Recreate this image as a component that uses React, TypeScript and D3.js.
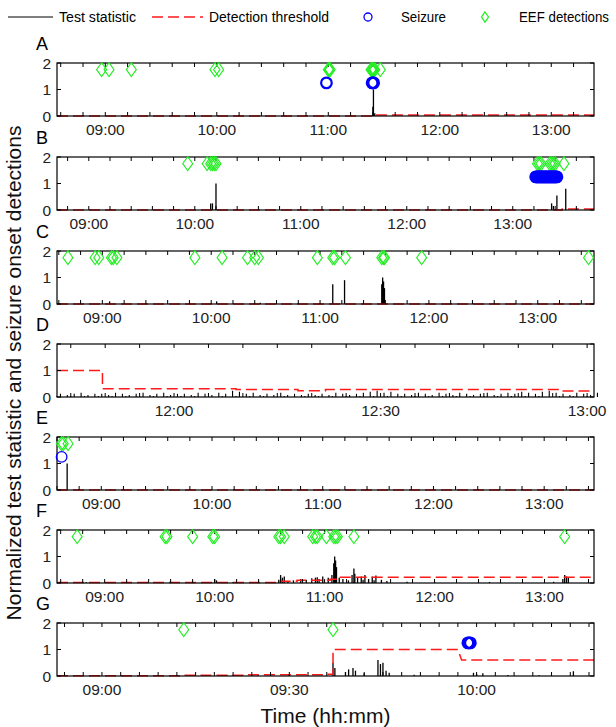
import React from "react";
import * as d3 from "d3";

const W = 616;
const H = 727;
const plotLeft = 57;
const plotRight = 594;
const panelTops = [63, 157, 251, 344, 437, 530, 623];
const panelH = 53;
const font = "'Liberation Sans', Arial, sans-serif";

type Pt = [string, number];

// "hh:mm" (minutes may have decimals) -> minutes since midnight
const toMin = (s: string) => {
  const [h, m] = s.split(":");
  return +h * 60 + +m;
};

const hourLabels = ["09:00", "10:00", "11:00", "12:00", "13:00"];

// ---- panel A
const aRange = ["08:34", "13:23"];
const aEef = ["08:58", "09:02", "09:14", "09:59", "10:01", "11:00", "11:00.5", "11:01", "11:23", "11:23.5", "11:24", "11:24.5", "11:25", "11:28"];
const aSeizure = ["10:59", "11:23.6", "11:24", "11:24.4"];
const aSpikes: Pt[] = [["11:24", 0.35], ["11:24.3", 1.0], ["11:25", 0.1]];
const aThreshold: Pt[] = [["08:34", 0], ["11:24", 0], ["11:24", 0.04], ["13:23", 0.04]];

// ---- panel B
const bRange = ["08:42", "13:46"];
const bEef = ["09:56", "10:07", "10:09", "10:10", "10:11", "10:12", "13:14", "13:15", "13:16", "13:21", "13:22", "13:23", "13:24", "13:29"];
const bSeizure = [
  "13:13", "13:13.5", "13:14", "13:14.5", "13:15", "13:15.5", "13:16", "13:16.5", "13:17", "13:17.5",
  "13:18", "13:18.5", "13:19", "13:19.5", "13:20", "13:20.5", "13:21", "13:21.5", "13:22", "13:22.5",
  "13:23", "13:23.5", "13:24", "13:24.5", "13:25"
];
const bSpikes: Pt[] = [["10:09", 0.25], ["10:10", 0.25], ["10:12", 1.0], ["13:22", 0.25], ["13:23", 0.15], ["13:25", 0.55], ["13:30", 0.8]];
const bThreshold: Pt[] = [["08:42", 0], ["13:28", 0], ["13:28", 0.04], ["13:46", 0.04]];

// ---- panel C
const cRange = ["08:35", "13:31"];
const cEef = ["08:41", "08:56", "08:58", "09:05", "09:06", "09:08", "09:51", "10:06", "10:20", "10:24", "10:26", "10:58.5", "11:07", "11:08", "11:14", "11:34", "11:35", "11:35.5", "11:56", "13:28"];
const cSeizure: string[] = [];
const cSpikes: Pt[] = [["09:04", 0.1], ["10:03", 0.1], ["10:27", 0.05], ["11:07", 0.75], ["11:13.5", 0.9], ["11:34", 0.75], ["11:34.5", 1.0], ["11:35", 0.85], ["11:35.5", 0.6]];
const cThreshold: Pt[] = [["08:35", 0], ["13:31", 0]];

// ---- panel D
const dRange = ["11:43", "13:01"];
const dLabels = ["12:00", "12:30", "13:00"];
const dThreshold: Pt[] = [
  ["11:43", 1.0], ["11:49.6", 1.0], ["11:49.6", 0.31], ["12:09", 0.31], ["12:09", 0.28],
  ["12:18", 0.28], ["12:18", 0.24], ["12:22", 0.24], ["12:22", 0.28], ["12:56", 0.28],
  ["12:56", 0.23], ["13:01", 0.23]
];
// test statistic, one digit per half minute from 11:43, value = digit * 0.04
const dStatStart = "11:43";
const dStatDigits =
  "1302130412" + "0313021403" + "1203140213" + "0412031302" +
  "1403120413" + "0615031402" + "1302041203" + "0213021302" +
  "1403120314" + "0516041503" + "1302140312" + "0413021403" +
  "1203140213" + "0413051403" + "1506041302" + "14031204";

// ---- panel E
const eRange = ["08:36", "13:27"];
const eEef = ["08:38.4", "08:39.4", "08:42"];
const eSeizure = ["08:38.5"];
const eSpikes: Pt[] = [["08:41.5", 1.0], ["08:48", 0.03], ["09:05", 0.02]];
const eThreshold: Pt[] = [["08:36", 0], ["13:27", 0]];

// ---- panel F
const fRange = ["08:34", "13:27"];
const fEef = ["08:45", "09:33", "09:34", "09:48", "09:59", "10:00", "10:35", "10:36", "10:38", "10:53.5", "10:55", "10:56", "11:01", "11:05", "11:06", "11:07", "11:16", "13:11"];
const fSeizure: string[] = [];
const fSpikes: Pt[] = [
  ["08:50", 0.03], ["09:10", 0.02], ["09:30", 0.04], ["09:45", 0.03], ["10:00", 0.15], ["10:01", 0.1],
  ["10:10", 0.04], ["10:20", 0.03], ["10:35", 0.12], ["10:36", 0.3], ["10:37", 0.2], ["10:38", 0.25],
  ["10:40", 0.08], ["10:43", 0.1], ["10:47", 0.15], ["10:50", 0.12], ["10:53", 0.18], ["10:55", 0.2],
  ["10:56", 0.22], ["10:57", 0.15], ["10:59", 0.25], ["11:02", 0.2], ["11:04", 0.3], ["11:05", 0.75],
  ["11:05.5", 1.0], ["11:06", 0.85], ["11:06.5", 0.6], ["11:08", 0.2], ["11:10", 0.15], ["11:13", 0.1],
  ["11:15", 0.3], ["11:16", 0.55], ["11:16.5", 0.35], ["11:18", 0.2], ["11:20", 0.25], ["11:21", 0.12],
  ["11:22", 0.3], ["11:24", 0.15], ["11:26", 0.25], ["11:27", 0.1], ["11:28", 0.28], ["11:31", 0.12],
  ["11:34", 0.08], ["11:45", 0.05], ["12:00", 0.03], ["12:30", 0.04], ["13:05", 0.05], ["13:10", 0.15],
  ["13:11", 0.3], ["13:12", 0.25], ["13:13", 0.2]
];
const fThreshold: Pt[] = [
  ["08:34", 0.02], ["10:35", 0.02], ["10:35", 0.07], ["10:45", 0.07], ["10:45", 0.1],
  ["11:03", 0.1], ["11:03", 0.14], ["11:08", 0.14], ["11:08", 0.22], ["13:27", 0.22]
];

// ---- panel G
const gRange = ["08:52.8", "10:18.8"];
const gLabels = ["09:00", "09:30", "10:00"];
const gEef = ["09:13.1", "09:37"];
const gSeizure = ["09:58.6", "09:58.8", "09:59"];
const gSpikes: Pt[] = [
  ["09:14", 0.03], ["09:20", 0.04], ["09:25", 0.03], ["09:30", 0.04], ["09:37", 0.5], ["09:37.3", 0.3],
  ["09:39", 0.15], ["09:39.5", 0.25], ["09:40.2", 0.3], ["09:40.6", 0.2], ["09:42", 0.1], ["09:44.2", 0.6],
  ["09:44.6", 0.45], ["09:45", 0.5], ["09:45.5", 0.2], ["09:46", 0.12], ["09:50", 0.05], ["09:59.5", 0.12],
  ["10:00", 0.08], ["10:01", 0.1], ["10:05", 0.04], ["10:10", 0.03], ["10:15.5", 0.18]
];
const gThreshold: Pt[] = [
  ["08:52.8", 0.01], ["09:13", 0.01], ["09:13", 0.03], ["09:23", 0.03], ["09:23", 0.05],
  ["09:35.5", 0.05], ["09:35.5", 0.07], ["09:37", 0.07], ["09:37", 1.0], ["09:57", 1.0],
  ["09:57.6", 0.6], ["10:18.8", 0.6]
];

interface Panel {
  letter: string;
  range: string[];
  labels: string[];
  step: number;
  eef: string[];
  seizure: string[];
  spikes: Pt[];
  threshold: Pt[];
  stat?: { start: string; digits: string };
}

const panels: Panel[] = [
  { letter: "A", range: aRange, labels: hourLabels, step: 12, eef: aEef, seizure: aSeizure, spikes: aSpikes, threshold: aThreshold },
  { letter: "B", range: bRange, labels: hourLabels, step: 12, eef: bEef, seizure: bSeizure, spikes: bSpikes, threshold: bThreshold },
  { letter: "C", range: cRange, labels: hourLabels, step: 12, eef: cEef, seizure: cSeizure, spikes: cSpikes, threshold: cThreshold },
  { letter: "D", range: dRange, labels: dLabels, step: 5, eef: [], seizure: [], spikes: [], threshold: dThreshold, stat: { start: dStatStart, digits: dStatDigits } },
  { letter: "E", range: eRange, labels: hourLabels, step: 12, eef: eEef, seizure: eSeizure, spikes: eSpikes, threshold: eThreshold },
  { letter: "F", range: fRange, labels: hourLabels, step: 12, eef: fEef, seizure: fSeizure, spikes: fSpikes, threshold: fThreshold },
  { letter: "G", range: gRange, labels: gLabels, step: 3, eef: gEef, seizure: gSeizure, spikes: gSpikes, threshold: gThreshold }
];

const GREEN = "#22ee22";
const BLUE = "#0000ff";
const RED = "#ff1a1a";

const diamond = (cx: number, cy: number, w = 5, h = 7) =>
  `M${cx},${cy - h}L${cx + w},${cy}L${cx},${cy + h}L${cx - w},${cy}Z`;

function PanelView({ p, top }: { p: Panel; top: number }) {
  const x = d3.scaleLinear().domain(p.range.map(toMin)).range([plotLeft, plotRight]);
  const y = d3.scaleLinear().domain([0, 2]).range([top + panelH, top]);
  const [t0, t1] = x.domain();
  const minor = d3.range(Math.ceil(t0 / p.step) * p.step, t1 + 1e-6, p.step);
  const bottom = top + panelH;

  const thr = d3.line<Pt>().x(d => x(toMin(d[0]))).y(d => y(d[1]))(p.threshold) || "";

  let stat: [number, number][] = [];
  if (p.stat) {
    const s0 = toMin(p.stat.start);
    stat = p.stat.digits.split("").map((c, i) => [s0 + i * 0.5, +c * 0.04] as [number, number]);
  }

  return (
    <g>
      <text x={36} y={top - 13} fontSize={18} fill="#000">{p.letter}</text>
      {[0, 1, 2].map(v => (
        <text key={v} x={51} y={y(v)} dy="0.36em" fontSize={15.5} textAnchor="end" fill="#222">{v}</text>
      ))}
      {p.labels.map(l => (
        <text key={l} x={x(toMin(l))} y={bottom + 19} fontSize={15.5} textAnchor="middle" fill="#222">{l}</text>
      ))}
      {/* test statistic */}
      {stat.map((d, i) => (
        <line key={"s" + i} x1={x(d[0])} x2={x(d[0])} y1={y(0)} y2={y(d[1])} stroke="#000" strokeWidth={1.1} />
      ))}
      {p.spikes.map((d, i) => (
        <line key={i} x1={x(toMin(d[0]))} x2={x(toMin(d[0]))} y1={y(0)} y2={y(d[1])} stroke="#000" strokeWidth={1.3} />
      ))}
      {/* detection threshold */}
      <path d={thr} fill="none" stroke={RED} strokeWidth={1.5} strokeDasharray="11,5" />
      {/* frame and ticks */}
      <rect x={plotLeft} y={top} width={plotRight - plotLeft} height={panelH} fill="none" stroke="#000" strokeWidth={1.2} />
      {minor.map(t => (
        <g key={t}>
          <line x1={x(t)} x2={x(t)} y1={top} y2={top + 4} stroke="#000" />
          <line x1={x(t)} x2={x(t)} y1={bottom} y2={bottom - 4} stroke="#000" />
        </g>
      ))}
      {[0, 1, 2].map(v => (
        <g key={v}>
          <line x1={plotLeft} x2={plotLeft + 4} y1={y(v)} y2={y(v)} stroke="#000" />
          <line x1={plotRight} x2={plotRight - 4} y1={y(v)} y2={y(v)} stroke="#000" />
        </g>
      ))}
      {/* markers */}
      {p.eef.map((t, i) => (
        <path key={i} d={diamond(x(toMin(t)), y(1.75))} fill="none" stroke={GREEN} strokeWidth={1.1} />
      ))}
      {p.seizure.map((t, i) => (
        <circle key={i} cx={x(toMin(t))} cy={y(1.25)} r={5.3} fill="none" stroke={BLUE} strokeWidth={p.seizure.length > 1 ? 2.2 : 1.3} />
      ))}
    </g>
  );
}

export default function App() {
  return (
    <svg width={W} height={H} style={{ display: "block", position: "absolute", left: 0, top: 0, background: "#fff" }} fontFamily={font}>
      {/* legend */}
      <g fontSize={14} fill="#000">
        <line x1={8} x2={53} y1={17} y2={17} stroke="#000" strokeWidth={1.2} />
        <text x={59} y={22} textLength={77} lengthAdjust="spacingAndGlyphs">Test statistic</text>
        <line x1={152} x2={203} y1={17} y2={17} stroke={RED} strokeWidth={1.5} strokeDasharray="11,5" />
        <text x={209} y={22} textLength={120} lengthAdjust="spacingAndGlyphs">Detection threshold</text>
        <circle cx={368} cy={17} r={4} fill="none" stroke={BLUE} strokeWidth={1.3} />
        <text x={401} y={22} textLength={45} lengthAdjust="spacingAndGlyphs">Seizure</text>
        <path d={diamond(485, 17, 3.5, 5)} fill="none" stroke={GREEN} strokeWidth={1.3} />
        <text x={519} y={22} textLength={90} lengthAdjust="spacingAndGlyphs">EEF detections</text>
      </g>
      {panels.map((p, i) => (
        <PanelView key={p.letter} p={p} top={panelTops[i]} />
      ))}
      <text transform="translate(21,373) rotate(-90)" textAnchor="middle" fontSize={21} fill="#111">
        Normalized test statistic and seizure onset detections
      </text>
      <text x={(plotLeft + plotRight) / 2} y={723} textAnchor="middle" fontSize={21} fill="#111">Time (hh:mm)</text>
    </svg>
  );
}
